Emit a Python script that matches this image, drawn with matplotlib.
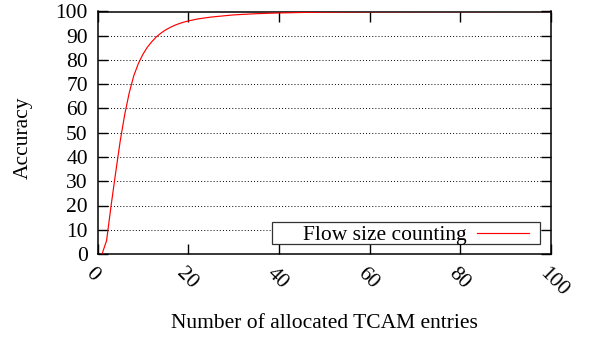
import matplotlib
matplotlib.use("Agg")
import matplotlib.pyplot as plt
from matplotlib.patches import Rectangle
from matplotlib.lines import Line2D
from matplotlib.transforms import ScaledTranslation

# Accuracy of flow size counting vs. TCAM entries allocated
entries = [1, 2, 3, 4, 5, 6, 7, 8, 9, 10, 11, 12, 13, 14, 15, 16, 17, 18, 19, 20,
           22, 25, 30, 35, 40, 45, 50, 60, 70, 80, 90, 100]
accuracy = [0.0, 5.5, 20.0, 33.5, 46.5, 57.5, 66.5, 73.5, 78.5, 82.3, 85.3, 87.6,
            89.6, 91.1, 92.4, 93.4, 94.3, 95.0, 95.6, 96.1, 96.9, 97.7, 98.6,
            99.1, 99.4, 99.6, 99.75, 99.9, 99.95, 99.98, 100.0, 100.0]
series_label = "Flow size counting"

x_ticks = [0, 20, 40, 60, 80, 100]
y_ticks = list(range(0, 101, 10))

FS = 15.5
plt.rcParams["font.family"] = ["Liberation Serif", "DejaVu Serif"]
plt.rcParams["font.size"] = FS

fig = plt.figure(figsize=(5.9, 3.39), dpi=100)
W, H = 590, 339
L, R, T, B = 97.5, 551.0, 11.5, 254.0
ax = fig.add_axes([L / W, 1 - B / H, (R - L) / W, (B - T) / H])

ax.plot(entries, accuracy, color="#ff0000", lw=0.85, zorder=3)

ax.set_xlim(0, 100)
ax.set_ylim(0, 100)
ax.set_xticks(x_ticks)
ax.set_yticks(y_ticks)

# horizontal dotted grid
for y in y_ticks[1:-1]:
    ax.axhline(y, color="black", lw=0.7, linestyle=(0, (1, 2.2)), zorder=1)

ax.tick_params(direction="in", length=7, width=1.0, top=True, right=True,
               labelsize=FS, colors="black")
ax.tick_params(axis="y", pad=7)
ax.tick_params(axis="x", pad=12)
shift = ScaledTranslation(-6.5 / 72, 0, fig.dpi_scale_trans)
for lbl in ax.get_xticklabels():
    lbl.set_rotation(-45)
    lbl.set_rotation_mode("anchor")
    lbl.set_ha("left")
    lbl.set_va("center")
    lbl.set_transform(lbl.get_transform() + shift)
for s in ax.spines.values():
    s.set_linewidth(1.1)
    s.set_color("black")

ax.set_ylabel("Accuracy", fontsize=FS)
ax.yaxis.set_label_coords(-0.142, 0.478)
ax.set_xlabel("Number of allocated TCAM entries", fontsize=FS)
ax.xaxis.set_label_coords(0.5, -0.246)

# key box in the lower right, text first then line sample
PW, PH = R - L, B - T
x0, x1 = (271.7 - L) / PW, (540 - L) / PW
y0, y1 = (B - 244.3) / PH, (B - 221.7) / PH
ax.add_patch(Rectangle((x0, y0), x1 - x0, y1 - y0, transform=ax.transAxes,
                       facecolor="white", edgecolor="#333333", lw=0.9, zorder=4))
ym = (B - 232.7) / PH
ax.text((302.7 - L) / PW, ym, series_label, transform=ax.transAxes,
        ha="left", va="center_baseline", fontsize=FS, zorder=5)
ax.add_line(Line2D([(476.7 - L) / PW, (529.3 - L) / PW], [ym, ym],
                   transform=ax.transAxes, color="#ff0000", lw=0.85, zorder=5))

fig.savefig("out.png", dpi=100)
